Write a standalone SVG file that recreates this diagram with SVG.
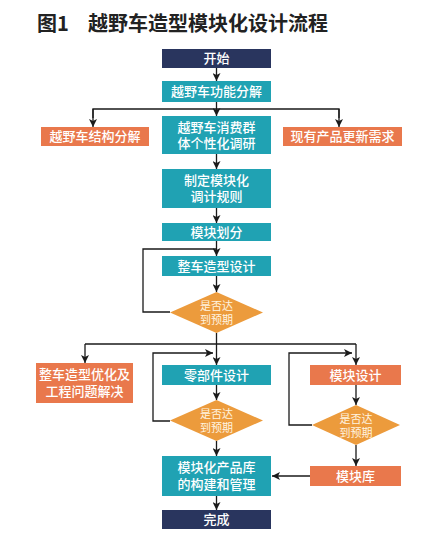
<svg xmlns="http://www.w3.org/2000/svg" width="425" height="535" viewBox="0 0 425 535">
<defs>
<marker id="ah" viewBox="0 0 10 10" refX="10" refY="5" markerWidth="8" markerHeight="8" markerUnits="userSpaceOnUse" orient="auto">
<path d="M0,0 L10,5 L0,10 L2.5,5 Z" fill="#1a1a1a"/>
</marker>
<style>
.t{font-family:"Noto Sans CJK SC","Noto Sans",sans-serif;font-weight:500;font-size:13px;fill:#fff;text-anchor:middle}
.d{font-family:"Noto Sans CJK SC","Noto Sans",sans-serif;font-size:11px;fill:#fff4e0;text-anchor:middle}
.teal{fill:#20a2b3}
.org{fill:#e9784c}
.nav{fill:#29355e}
.dia{fill:#ec9b3c}
.c line,.c polyline{stroke:#1a1a1a;stroke-width:1.3;fill:none}
.a{marker-end:url(#ah)}
</style>
</defs>
<rect width="425" height="535" fill="#fff"/>
<text x="37" y="31" style="font-family:'Noto Sans CJK SC',sans-serif;font-weight:700;font-size:20px;fill:#222">图1</text>
<text x="88" y="31" style="font-family:'Noto Sans CJK SC',sans-serif;font-weight:700;font-size:20px;fill:#222">越野车造型模块化设计流程</text>

<g class="c" id="connectors">
<line class="a" x1="216.5" y1="68" x2="216.5" y2="81"/>
<line class="a" x1="216.5" y1="102" x2="216.5" y2="116"/>
<polyline points="93,118 93,109 339,109 339,118"/>
<line class="a" x1="93" y1="109" x2="93" y2="127"/>
<line class="a" x1="339" y1="109" x2="339" y2="127"/>
<line class="a" x1="216.5" y1="154" x2="216.5" y2="169"/>
<line class="a" x1="216.5" y1="208" x2="216.5" y2="223"/>
<line class="a" x1="216.5" y1="241" x2="216.5" y2="256"/>
<polyline points="170,312 143,312 143,249 216.5,249"/>
<line class="a" x1="216.5" y1="276" x2="216.5" y2="292"/>
<line x1="216.5" y1="333" x2="216.5" y2="344"/>
<line x1="85" y1="344" x2="356" y2="344"/>
<line class="a" x1="85" y1="344" x2="85" y2="363"/>
<line class="a" x1="216.5" y1="344" x2="216.5" y2="365"/>
<line class="a" x1="356" y1="344" x2="356" y2="365"/>
<polyline class="a" points="170,421 153,421 153,353 213,353"/>
<polyline class="a" points="312,425 289,425 289,353 352,353"/>
<line class="a" x1="216.5" y1="385" x2="216.5" y2="400"/>
<line class="a" x1="216.5" y1="441" x2="216.5" y2="456"/>
<line class="a" x1="356" y1="385" x2="356" y2="405"/>
<line class="a" x1="356" y1="445" x2="356" y2="466"/>
<line class="a" x1="310" y1="476" x2="272" y2="476"/>
<line class="a" x1="216.5" y1="496" x2="216.5" y2="510"/>
</g>

<g id="start"><rect class="nav" x="162" y="49" width="109" height="19"/><text class="t" x="216.5" y="63">开始</text></g>
<g id="func"><rect class="teal" x="162" y="81" width="109" height="21"/><text class="t" x="216.5" y="96">越野车功能分解</text></g>
<g id="struct"><rect class="org" x="41" y="127" width="108" height="19"/><text class="t" x="95" y="141">越野车结构分解</text></g>
<g id="survey"><rect class="teal" x="162" y="116" width="109" height="38"/><text class="t" x="216.5" y="132">越野车消费群<tspan x="216.5" dy="16">体个性化调研</tspan></text></g>
<g id="update"><rect class="org" x="283" y="127" width="119" height="19"/><text class="t" x="342.5" y="141">现有产品更新需求</text></g>
<g id="rules"><rect class="teal" x="162" y="169" width="109" height="39"/><text class="t" x="216.5" y="185">制定模块化<tspan x="216.5" dy="16">调计规则</tspan></text></g>
<g id="divide"><rect class="teal" x="162" y="223" width="109" height="18"/><text class="t" x="216.5" y="237">模块划分</text></g>
<g id="styling"><rect class="teal" x="162" y="256" width="109" height="20"/><text class="t" x="216.5" y="271">整车造型设计</text></g>
<g id="check1"><polygon class="dia" points="216.5,292 263,312.5 216.5,333 170,312.5"/><text class="d" x="216.5" y="310">是否达<tspan x="216.5" dy="14">到预期</tspan></text></g>
<g id="optimize"><rect class="org" x="36" y="363" width="97" height="40"/><text class="t" x="84.5" y="379">整车造型优化及<tspan x="84.5" dy="17">工程问题解决</tspan></text></g>
<g id="parts"><rect class="teal" x="162" y="365" width="109" height="20"/><text class="t" x="216.5" y="380">零部件设计</text></g>
<g id="moddesign"><rect class="org" x="310" y="365" width="91" height="20"/><text class="t" x="355.5" y="380">模块设计</text></g>
<g id="check2"><polygon class="dia" points="216.5,400 263,420.5 216.5,441 170,420.5"/><text class="d" x="216.5" y="418">是否达<tspan x="216.5" dy="14">到预期</tspan></text></g>
<g id="check3"><polygon class="dia" points="356,405 400,425 356,445 312,425"/><text class="d" x="356" y="423">是否达<tspan x="356" dy="14">到预期</tspan></text></g>
<g id="library"><rect class="teal" x="162" y="456" width="109" height="40"/><text class="t" x="216.5" y="472">模块化产品库<tspan x="216.5" dy="17">的构建和管理</tspan></text></g>
<g id="modlib"><rect class="org" x="310" y="466" width="91" height="20"/><text class="t" x="355.5" y="481">模块库</text></g>
<g id="done"><rect class="nav" x="162" y="510" width="109" height="19"/><text class="t" x="216.5" y="524">完成</text></g>
</svg>
